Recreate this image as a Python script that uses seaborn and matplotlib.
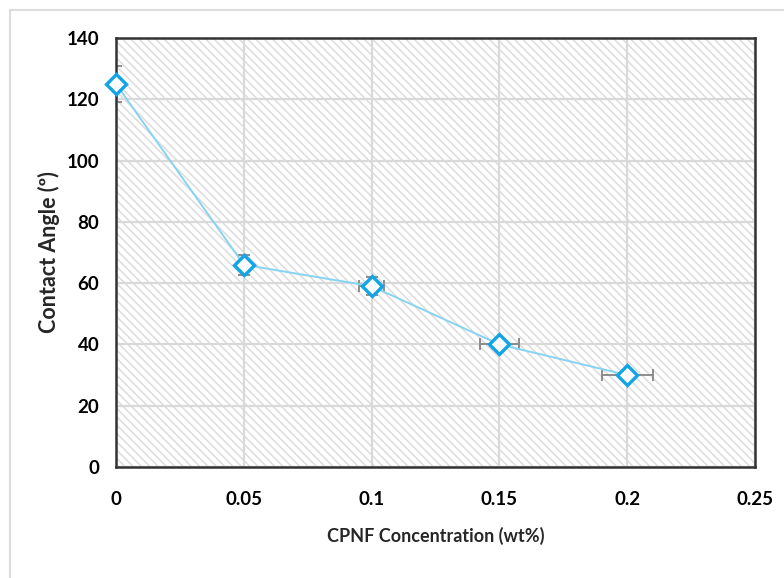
import matplotlib
matplotlib.use("Agg")
import matplotlib.pyplot as plt
import seaborn as sns
import pandas as pd
from matplotlib.patches import Rectangle
from matplotlib.lines import Line2D

concentration = [0, 0.05, 0.1, 0.15, 0.2]
contact_angle = [125, 66, 59, 40, 30]
y_err = [6, 3.3, 3, 1, 1]
x_err = [0, 0, 0.005, 0.0075, 0.01]
x_ticks = [0, 0.05, 0.1, 0.15, 0.2, 0.25]
x_tick_labels = ["0", "0.05", "0.1", "0.15", "0.2", "0.25"]
y_ticks = [0, 20, 40, 60, 80, 100, 120, 140]

sns.set_theme(style="white")
plt.rcParams['font.family'] = ['Lato', 'DejaVu Sans']
plt.rcParams['hatch.linewidth'] = 1.1
plt.rcParams['hatch.color'] = '#DCDCDC'

df = pd.DataFrame({"conc": concentration, "angle": contact_angle})

fig = plt.figure(figsize=(7.84, 5.78), dpi=100)
# outer light frame (left and top edges only visible)
fx, fy = 10 / 784, 1 - 10 / 578
fig.add_artist(Line2D([fx, fx], [0, fy], transform=fig.transFigure, color='#DCDCDC', linewidth=1.5))
fig.add_artist(Line2D([fx, 1], [fy, fy], transform=fig.transFigure, color='#DCDCDC', linewidth=1.5))

ax = fig.add_axes([116/784, 1 - 467/578, (755-116)/784, (467-38)/578])

bg = Rectangle((0, 0), 1, 1, transform=ax.transAxes, facecolor='white',
               edgecolor='#DCDCDC', hatch='\\\\\\\\', linewidth=0, zorder=0)
ax.add_patch(bg)

ax.set_xlim(0, 0.25)
ax.set_ylim(0, 140)
ax.set_xticks(x_ticks)
ax.set_xticklabels(x_tick_labels)
ax.set_yticks(y_ticks)
ax.grid(True, color='#D9D9D9', linewidth=1.6, zorder=1)
ax.set_axisbelow(False)
for gl in ax.get_xgridlines() + ax.get_ygridlines():
    gl.set_zorder(1)

ax.errorbar(concentration, contact_angle, yerr=y_err, xerr=x_err, fmt='none',
            ecolor='#8C8C8C', elinewidth=1.4, capsize=4, capthick=1.4, zorder=3)
sns.lineplot(data=df, x="conc", y="angle", ax=ax, color='#86D3F2', linewidth=1.4,
             marker='D', markersize=10, markerfacecolor='white',
             markeredgecolor='#12A5E6', markeredgewidth=2.4, zorder=6, clip_on=False)

for s in ax.spines.values():
    s.set_color('#333333')
    s.set_linewidth(1.8)
    s.set_visible(True)
    s.set_zorder(5)

ax.tick_params(axis='both', length=0, labelsize=13.5, colors='black')
ax.tick_params(axis='x', pad=17)
ax.tick_params(axis='y', pad=12)
for lab in ax.get_xticklabels() + ax.get_yticklabels():
    lab.set_fontweight('bold')

ax.set_xlabel("CPNF Concentration (wt%)", fontsize=13, fontweight='bold', labelpad=14)
ax.set_ylabel("Contact Angle (º)", fontsize=15.5, fontweight='bold')
ax.yaxis.set_label_coords(-0.088, 0.5)

fig.savefig("out.png", dpi=100)
